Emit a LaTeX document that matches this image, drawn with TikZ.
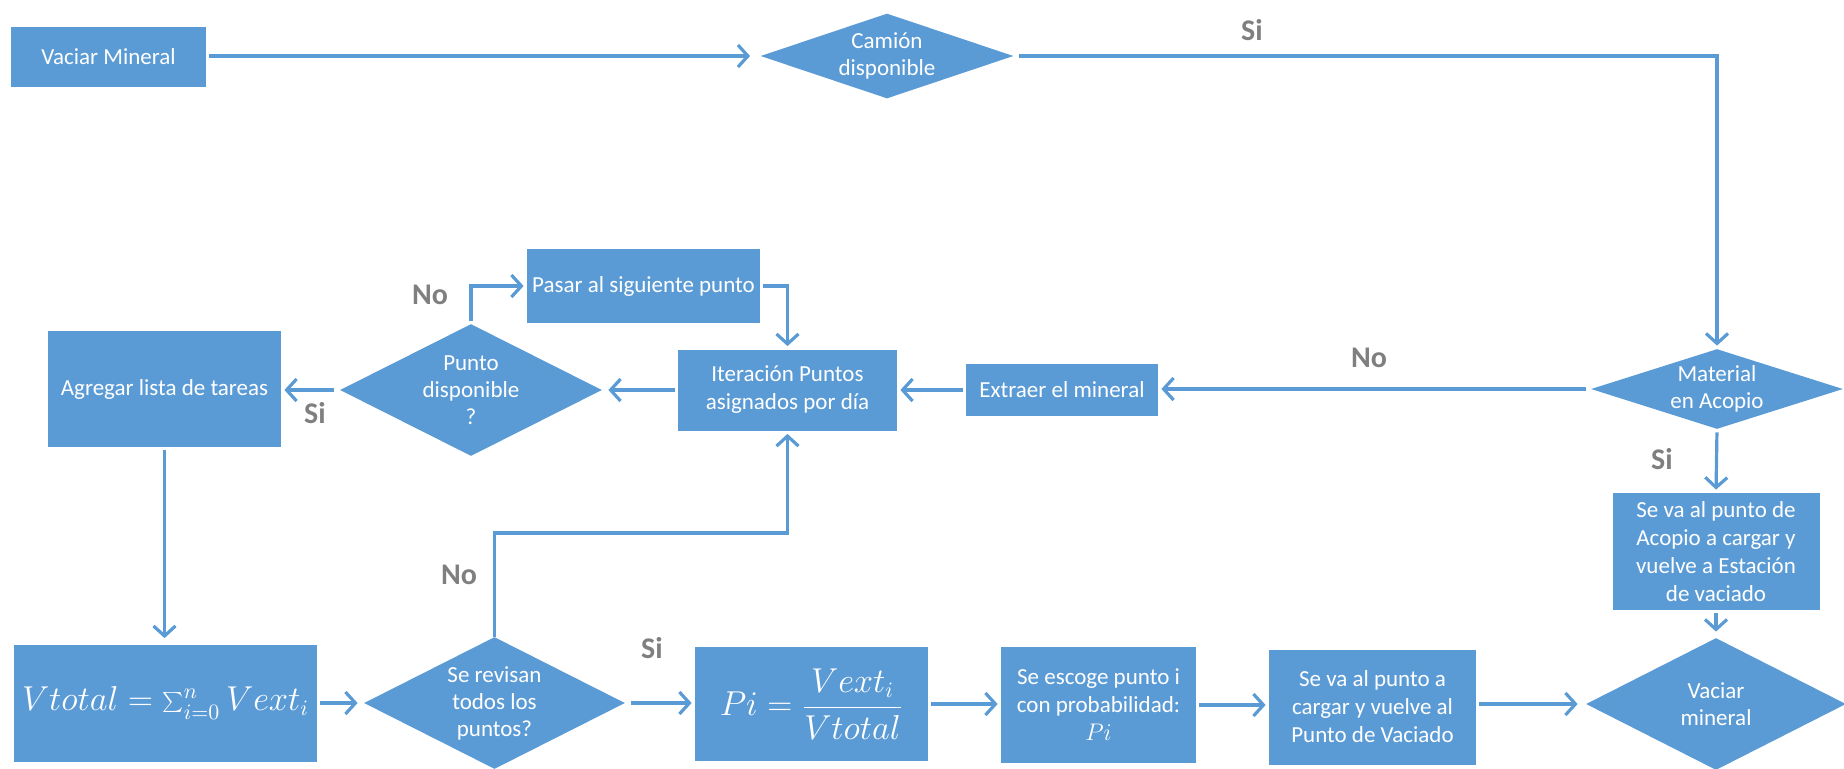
\documentclass[tikz,border=0pt]{standalone}
\usepackage{fontspec}
\setmainfont{Carlito}
\usetikzlibrary{shapes.geometric,arrows.meta}
\definecolor{flowblue}{HTML}{5B9BD5}
\definecolor{labelgray}{HTML}{7F7F7F}

\begin{document}
\begin{tikzpicture}[x=0.5pt,y=-0.5pt,
  box/.style={rectangle, fill=flowblue, text=white, align=center, inner sep=0pt,
    font=\fontsize{11.5}{14}\selectfont},
  decision/.style={diamond, fill=flowblue, inner sep=0pt},
  dtext/.style={text=white, align=center, inner sep=0pt, font=\fontsize{11.5}{13.5}\selectfont},
  mathbox/.style={box, font=\fontsize{16}{19}\selectfont},
  flow/.style={draw=flowblue, line width=1.6pt, shorten >=1.5pt, shorten <=1.5pt,
    -{Straight Barb[length=5pt,width=11pt]}},
  answer/.style={text=labelgray, inner sep=0pt, font=\fontsize{15}{18}\selectfont\bfseries}
]
\useasboundingbox (0,0) rectangle (1844,768);

% top row
\node[box, minimum width=97.5pt, minimum height=30pt] (vm) at (108.5,57) {Vaciar Mineral};
\node[decision, minimum width=126.5pt, minimum height=42.5pt] (cam) at (887,56) {};
\node[dtext] (camt) at (cam) {Camión\\disponible};

% middle row
\node[decision, minimum width=126pt, minimum height=40pt] (mat) at (1717,389) {};
\node[dtext] (matt) at (mat) {Material\\en Acopio};
\node[box, minimum width=96pt, minimum height=26pt] (ext) at (1062,390) {Extraer el mineral};
\node[box, minimum width=109.5pt, minimum height=40.5pt] (ite) at (787.5,390) {Iteración Puntos\\asignados por día};
\node[decision, minimum width=131pt, minimum height=66pt] (pun) at (471,390) {};
\node[dtext] (punt) at (pun) {Punto\\disponible\\?};
\node[box, minimum width=116.5pt, minimum height=58pt] (agr) at (164.5,389) {Agregar lista de tareas};
\node[box, minimum width=116.5pt, minimum height=37pt] (pas) at (643.5,286) {Pasar al siguiente punto};

% stockpile branch
\node[box, minimum width=103.5pt, minimum height=58.5pt] (aco) at (1716,551.5)
  {Se va al punto de\\Acopio a cargar y\\vuelve a Estación\\de vaciado};

% bottom row
\node[mathbox, minimum width=151.5pt, minimum height=58.5pt] (vt) at (165.5,703)
  {$Vtotal =\sum_{i=0}^{n} Vext_i$};
\node[decision, minimum width=130.5pt, minimum height=66pt] (rev) at (494.5,703) {};
\node[dtext] (revt) at (rev) {Se revisan\\todos los\\puntos?};
\node[mathbox, minimum width=116.5pt, minimum height=57pt] (pi) at (811.5,704)
  {$Pi = \displaystyle\frac{Vext_i}{Vtotal}$};
\node[box, minimum width=97.5pt, minimum height=58pt] (esc) at (1098.5,705)
  {Se escoge punto i\\con probabilidad:\\$Pi$};
\node[box, minimum width=103.5pt, minimum height=57.5pt] (seva) at (1372.5,707)
  {Se va al punto a\\cargar y vuelve al\\Punto de Vaciado};
\node[decision, minimum width=130pt, minimum height=66pt] (vac) at (1716,704) {};
\node[dtext] (vact) at (vac) {Vaciar\\mineral};

\coordinate (loopback) at (0,533);

% connectors
\draw[flow, shorten >=5pt] (vm.east |- cam.west) -- (cam.west);
\draw[flow, shorten <=2.5pt] (cam.east) -- (mat.north |- cam.east) -- (mat.north);
\draw[flow, shorten <=2.5pt] (mat.west) -- (mat.west -| ext.east);
\draw[flow] (ext.west) -- (ext.west -| ite.east);
\draw[flow, shorten >=3pt] (ite.west) -- (pun.east);
\draw[flow, shorten <=3pt] (pun.west) -- (pun.west -| agr.east);
\draw[flow] (pun.north) -- (pun.north |- pas.west) -- (pas.west);
\draw[flow] (pas.east) -| (ite.north);
\draw[flow, shorten >=3pt] (agr.south) -- (agr.south |- vt.north);
\draw[flow, shorten >=3pt] (vt.east) -- (vt.east -| rev.west);
\draw[flow, shorten <=0pt] (rev.north) -- (rev.north |- loopback) -| (ite.south);
\draw[flow, shorten <=3pt] (rev.east) -- (rev.east -| pi.west);
\draw[flow] (pi.east) -- (pi.east -| esc.west);
\draw[flow] (esc.east) -- (esc.east -| seva.west);
\draw[flow, shorten >=4pt] (seva.east |- vac.west) -- (vac.west);
\draw[flow] (mat.south) -- (aco.north);
\draw[flow, shorten >=3pt] (aco.south) -- (vac.north);

% branch answers
\node[answer] (l1) at (1252,30) {Si};
\node[answer] (l2) at (1369,358) {No};
\node[answer] (l3) at (430,295) {No};
\node[answer] (l4) at (315,413) {Si};
\node[answer] (l5) at (459,575) {No};
\node[answer] (l6) at (652,648) {Si};
\node[answer] (l7) at (1662,459) {Si};
\end{tikzpicture}
\end{document}
